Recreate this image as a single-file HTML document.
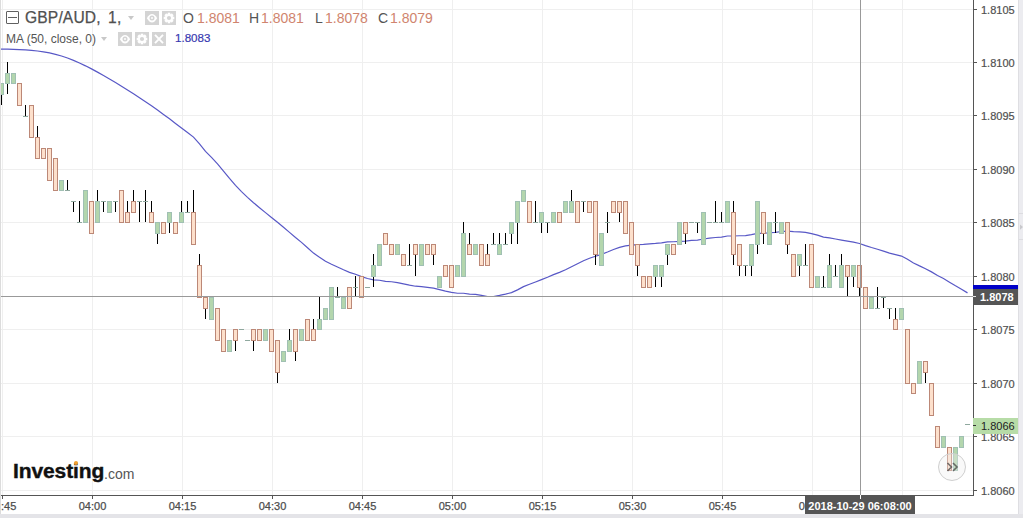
<!DOCTYPE html>
<html><head><meta charset="utf-8">
<style>
html,body{margin:0;padding:0;}
body{width:1023px;height:518px;overflow:hidden;background:#fff;position:relative;font-family:"Liberation Sans",sans-serif;}
.a{position:absolute;white-space:nowrap;}
svg{position:absolute;left:0;top:0;}
.pl{position:absolute;left:981px;font-size:11px;line-height:14px;color:#505050;-webkit-text-stroke:0.2px #505050;}
.tl{position:absolute;font-size:11px;line-height:14px;color:#4d4d4d;text-align:center;-webkit-text-stroke:0.25px #4d4d4d;}
</style></head><body>
<div class="a" style="left:1018px;top:0;width:5px;height:518px;background:#ececf0;border-left:1px solid #dedee2;box-sizing:border-box"></div>
<div class="a" style="left:0;top:514px;width:1023px;height:4px;background:#e4e4e8"></div>
<div class="a" style="left:1019px;top:213px;width:4px;height:1px;background:#dcdce0"></div>
<div class="a" style="left:1019px;top:239px;width:4px;height:1px;background:#dcdce0"></div>
<svg class="a" style="left:1018px;top:221px" width="5" height="12" shape-rendering="geometricPrecision"><path d="M2 3.5 L5 6 L2 8.8 Z" fill="#c8c8cc"/></svg>
<svg width="1023" height="518" shape-rendering="crispEdges">
<rect x="1" y="9" width="972" height="1" fill="#efefef"/>
<rect x="1" y="62" width="972" height="1" fill="#efefef"/>
<rect x="1" y="115" width="972" height="1" fill="#efefef"/>
<rect x="1" y="169" width="972" height="1" fill="#efefef"/>
<rect x="1" y="222" width="972" height="1" fill="#efefef"/>
<rect x="1" y="276" width="972" height="1" fill="#efefef"/>
<rect x="1" y="329" width="972" height="1" fill="#efefef"/>
<rect x="1" y="383" width="972" height="1" fill="#efefef"/>
<rect x="1" y="436" width="972" height="1" fill="#efefef"/>
<rect x="1" y="490" width="972" height="1" fill="#efefef"/>
<rect x="2" y="0" width="1" height="495" fill="#efefef"/>
<rect x="92" y="0" width="1" height="495" fill="#efefef"/>
<rect x="182" y="0" width="1" height="495" fill="#efefef"/>
<rect x="272" y="0" width="1" height="495" fill="#efefef"/>
<rect x="362" y="0" width="1" height="495" fill="#efefef"/>
<rect x="452" y="0" width="1" height="495" fill="#efefef"/>
<rect x="542" y="0" width="1" height="495" fill="#efefef"/>
<rect x="632" y="0" width="1" height="495" fill="#efefef"/>
<rect x="722" y="0" width="1" height="495" fill="#efefef"/>
<rect x="812" y="0" width="1" height="495" fill="#efefef"/>
<rect x="902" y="0" width="1" height="495" fill="#efefef"/>
<polyline points="0.0,49.04 1.5,49.04 7.5,49.20 13.5,49.36 19.5,49.59 25.5,49.91 31.5,50.37 37.5,50.99 43.5,51.83 49.5,52.92 55.5,54.30 61.5,56.00 67.5,58.03 73.5,60.37 79.5,62.98 85.5,65.84 91.5,68.90 97.5,72.15 103.5,75.54 109.5,79.01 115.5,82.57 121.5,86.21 127.5,89.94 133.5,93.75 139.5,97.67 145.5,101.69 151.5,105.81 157.5,110.04 163.5,114.39 169.5,118.85 175.5,123.40 181.5,127.98 187.5,132.51 193.5,137.12 199.5,143.89 205.5,151.41 211.5,157.36 217.5,163.83 223.5,171.02 229.5,178.40 235.5,185.31 241.5,191.59 247.5,197.34 253.5,202.69 259.5,207.74 265.5,212.63 271.5,217.45 277.5,222.34 283.5,227.30 289.5,232.34 295.5,237.48 301.5,242.39 307.5,247.74 313.5,253.08 319.5,257.36 325.5,261.21 331.5,264.20 337.5,266.98 343.5,269.76 349.5,272.32 355.5,274.25 361.5,276.60 367.5,278.52 373.5,279.80 379.5,280.23 385.5,281.30 391.5,281.73 397.5,282.58 403.5,283.87 409.5,285.15 415.5,286.22 421.5,286.65 427.5,287.29 433.5,288.14 439.5,289.64 445.5,291.13 451.5,292.42 457.5,293.27 463.5,293.27 469.5,294.13 475.5,294.34 481.5,295.41 487.5,296.48 493.5,296.48 499.5,295.41 505.5,294.13 511.5,292.63 517.5,289.85 523.5,286.65 529.5,284.29 535.5,281.94 541.5,279.59 547.5,277.24 553.5,274.67 559.5,272.32 565.5,269.76 571.5,266.76 577.5,263.77 583.5,260.78 589.5,258.21 595.5,256.29 601.5,254.36 607.5,252.01 613.5,249.45 619.5,247.31 625.5,245.81 631.5,245.17 637.5,244.53 643.5,244.32 649.5,243.89 655.5,243.46 661.5,242.82 667.5,241.97 673.5,241.75 679.5,241.32 685.5,241.11 691.5,240.47 697.5,240.04 703.5,238.97 709.5,238.12 715.5,237.48 721.5,237.05 727.5,235.98 733.5,235.98 739.5,235.77 745.5,235.55 751.5,234.70 757.5,233.41 763.5,233.41 769.5,232.77 775.5,232.35 781.5,231.49 787.5,231.06 793.5,231.70 799.5,231.92 805.5,232.35 811.5,233.63 817.5,235.12 823.5,237.05 829.5,237.90 835.5,238.97 841.5,240.04 847.5,241.11 853.5,242.18 859.5,243.46 865.5,245.60 871.5,247.52 877.5,249.23 883.5,251.16 889.5,253.08 895.5,254.58 901.5,256.07 907.5,259.28 913.5,262.92 919.5,265.91 925.5,268.69 931.5,271.89 937.5,275.53 943.5,278.52 949.5,282.20 955.5,285.83 961.5,289.25 967.5,292.87" fill="none" stroke="#5858c6" stroke-width="1.2" shape-rendering="geometricPrecision"/>
<rect x="1" y="83" width="1" height="22" fill="#000"/>
<rect x="7" y="62" width="1" height="32" fill="#000"/>
<rect x="13" y="73" width="1" height="10" fill="#000"/>
<rect x="19" y="83" width="1" height="22" fill="#000"/>
<rect x="25" y="105" width="1" height="11" fill="#000"/>
<rect x="31" y="105" width="1" height="32" fill="#000"/>
<rect x="37" y="126" width="1" height="32" fill="#000"/>
<rect x="43" y="148" width="1" height="10" fill="#000"/>
<rect x="49" y="148" width="1" height="32" fill="#000"/>
<rect x="55" y="158" width="1" height="32" fill="#000"/>
<rect x="61" y="180" width="1" height="10" fill="#000"/>
<rect x="67" y="180" width="1" height="10" fill="#000"/>
<rect x="73" y="201" width="1" height="11" fill="#000"/>
<rect x="79" y="201" width="1" height="21" fill="#000"/>
<rect x="85" y="190" width="1" height="32" fill="#000"/>
<rect x="91" y="201" width="1" height="32" fill="#000"/>
<rect x="97" y="190" width="1" height="32" fill="#000"/>
<rect x="103" y="201" width="1" height="11" fill="#000"/>
<rect x="109" y="201" width="1" height="11" fill="#000"/>
<rect x="115" y="201" width="1" height="11" fill="#000"/>
<rect x="121" y="190" width="1" height="32" fill="#000"/>
<rect x="127" y="201" width="1" height="21" fill="#000"/>
<rect x="133" y="190" width="1" height="22" fill="#000"/>
<rect x="139" y="201" width="1" height="21" fill="#000"/>
<rect x="145" y="190" width="1" height="32" fill="#000"/>
<rect x="151" y="201" width="1" height="21" fill="#000"/>
<rect x="157" y="222" width="1" height="22" fill="#000"/>
<rect x="163" y="222" width="1" height="11" fill="#000"/>
<rect x="169" y="212" width="1" height="21" fill="#000"/>
<rect x="175" y="222" width="1" height="11" fill="#000"/>
<rect x="181" y="201" width="1" height="21" fill="#000"/>
<rect x="187" y="201" width="1" height="11" fill="#000"/>
<rect x="193" y="190" width="1" height="54" fill="#000"/>
<rect x="199" y="254" width="1" height="43" fill="#000"/>
<rect x="205" y="297" width="1" height="22" fill="#000"/>
<rect x="211" y="297" width="1" height="22" fill="#000"/>
<rect x="217" y="308" width="1" height="32" fill="#000"/>
<rect x="223" y="329" width="1" height="22" fill="#000"/>
<rect x="229" y="340" width="1" height="11" fill="#000"/>
<rect x="235" y="329" width="1" height="22" fill="#000"/>
<rect x="253" y="329" width="1" height="22" fill="#000"/>
<rect x="259" y="329" width="1" height="11" fill="#000"/>
<rect x="265" y="329" width="1" height="11" fill="#000"/>
<rect x="271" y="329" width="1" height="22" fill="#000"/>
<rect x="277" y="340" width="1" height="43" fill="#000"/>
<rect x="283" y="351" width="1" height="10" fill="#000"/>
<rect x="289" y="329" width="1" height="22" fill="#000"/>
<rect x="295" y="329" width="1" height="32" fill="#000"/>
<rect x="301" y="329" width="1" height="11" fill="#000"/>
<rect x="307" y="319" width="1" height="21" fill="#000"/>
<rect x="313" y="319" width="1" height="21" fill="#000"/>
<rect x="319" y="297" width="1" height="32" fill="#000"/>
<rect x="325" y="308" width="1" height="11" fill="#000"/>
<rect x="331" y="287" width="1" height="32" fill="#000"/>
<rect x="337" y="287" width="1" height="10" fill="#000"/>
<rect x="343" y="297" width="1" height="11" fill="#000"/>
<rect x="349" y="287" width="1" height="21" fill="#000"/>
<rect x="355" y="276" width="1" height="21" fill="#000"/>
<rect x="361" y="276" width="1" height="21" fill="#000"/>
<rect x="373" y="254" width="1" height="33" fill="#000"/>
<rect x="379" y="244" width="1" height="21" fill="#000"/>
<rect x="385" y="233" width="1" height="11" fill="#000"/>
<rect x="391" y="244" width="1" height="10" fill="#000"/>
<rect x="397" y="244" width="1" height="10" fill="#000"/>
<rect x="403" y="254" width="1" height="11" fill="#000"/>
<rect x="409" y="244" width="1" height="21" fill="#000"/>
<rect x="415" y="244" width="1" height="32" fill="#000"/>
<rect x="421" y="244" width="1" height="21" fill="#000"/>
<rect x="427" y="244" width="1" height="10" fill="#000"/>
<rect x="433" y="244" width="1" height="21" fill="#000"/>
<rect x="439" y="276" width="1" height="11" fill="#000"/>
<rect x="445" y="265" width="1" height="11" fill="#000"/>
<rect x="451" y="265" width="1" height="22" fill="#000"/>
<rect x="457" y="265" width="1" height="11" fill="#000"/>
<rect x="463" y="222" width="1" height="54" fill="#000"/>
<rect x="469" y="233" width="1" height="21" fill="#000"/>
<rect x="475" y="244" width="1" height="10" fill="#000"/>
<rect x="481" y="244" width="1" height="21" fill="#000"/>
<rect x="487" y="244" width="1" height="21" fill="#000"/>
<rect x="493" y="233" width="1" height="11" fill="#000"/>
<rect x="499" y="233" width="1" height="21" fill="#000"/>
<rect x="505" y="233" width="1" height="11" fill="#000"/>
<rect x="511" y="222" width="1" height="22" fill="#000"/>
<rect x="517" y="201" width="1" height="43" fill="#000"/>
<rect x="523" y="190" width="1" height="11" fill="#000"/>
<rect x="529" y="201" width="1" height="21" fill="#000"/>
<rect x="535" y="201" width="1" height="21" fill="#000"/>
<rect x="541" y="212" width="1" height="21" fill="#000"/>
<rect x="547" y="222" width="1" height="11" fill="#000"/>
<rect x="553" y="212" width="1" height="10" fill="#000"/>
<rect x="559" y="212" width="1" height="10" fill="#000"/>
<rect x="565" y="201" width="1" height="11" fill="#000"/>
<rect x="571" y="190" width="1" height="22" fill="#000"/>
<rect x="577" y="201" width="1" height="21" fill="#000"/>
<rect x="583" y="201" width="1" height="11" fill="#000"/>
<rect x="589" y="201" width="1" height="11" fill="#000"/>
<rect x="595" y="201" width="1" height="64" fill="#000"/>
<rect x="601" y="233" width="1" height="32" fill="#000"/>
<rect x="607" y="212" width="1" height="21" fill="#000"/>
<rect x="613" y="201" width="1" height="11" fill="#000"/>
<rect x="619" y="201" width="1" height="21" fill="#000"/>
<rect x="625" y="201" width="1" height="32" fill="#000"/>
<rect x="631" y="222" width="1" height="32" fill="#000"/>
<rect x="637" y="244" width="1" height="32" fill="#000"/>
<rect x="643" y="276" width="1" height="11" fill="#000"/>
<rect x="649" y="276" width="1" height="11" fill="#000"/>
<rect x="655" y="265" width="1" height="22" fill="#000"/>
<rect x="661" y="265" width="1" height="22" fill="#000"/>
<rect x="667" y="244" width="1" height="21" fill="#000"/>
<rect x="673" y="244" width="1" height="10" fill="#000"/>
<rect x="679" y="222" width="1" height="22" fill="#000"/>
<rect x="685" y="222" width="1" height="22" fill="#000"/>
<rect x="697" y="222" width="1" height="11" fill="#000"/>
<rect x="703" y="212" width="1" height="32" fill="#000"/>
<rect x="715" y="201" width="1" height="21" fill="#000"/>
<rect x="721" y="212" width="1" height="10" fill="#000"/>
<rect x="727" y="201" width="1" height="21" fill="#000"/>
<rect x="733" y="201" width="1" height="64" fill="#000"/>
<rect x="739" y="244" width="1" height="32" fill="#000"/>
<rect x="745" y="265" width="1" height="11" fill="#000"/>
<rect x="751" y="244" width="1" height="32" fill="#000"/>
<rect x="757" y="201" width="1" height="53" fill="#000"/>
<rect x="763" y="212" width="1" height="32" fill="#000"/>
<rect x="769" y="222" width="1" height="22" fill="#000"/>
<rect x="775" y="212" width="1" height="21" fill="#000"/>
<rect x="781" y="222" width="1" height="11" fill="#000"/>
<rect x="787" y="222" width="1" height="32" fill="#000"/>
<rect x="793" y="254" width="1" height="22" fill="#000"/>
<rect x="799" y="254" width="1" height="22" fill="#000"/>
<rect x="805" y="244" width="1" height="21" fill="#000"/>
<rect x="811" y="244" width="1" height="43" fill="#000"/>
<rect x="817" y="276" width="1" height="11" fill="#000"/>
<rect x="823" y="276" width="1" height="11" fill="#000"/>
<rect x="829" y="254" width="1" height="33" fill="#000"/>
<rect x="835" y="265" width="1" height="11" fill="#000"/>
<rect x="841" y="254" width="1" height="33" fill="#000"/>
<rect x="847" y="265" width="1" height="32" fill="#000"/>
<rect x="853" y="265" width="1" height="22" fill="#000"/>
<rect x="859" y="265" width="1" height="32" fill="#000"/>
<rect x="865" y="287" width="1" height="21" fill="#000"/>
<rect x="871" y="297" width="1" height="11" fill="#000"/>
<rect x="877" y="287" width="1" height="21" fill="#000"/>
<rect x="883" y="297" width="1" height="11" fill="#000"/>
<rect x="889" y="308" width="1" height="11" fill="#000"/>
<rect x="895" y="308" width="1" height="21" fill="#000"/>
<rect x="901" y="308" width="1" height="11" fill="#000"/>
<rect x="907" y="329" width="1" height="54" fill="#000"/>
<rect x="913" y="383" width="1" height="10" fill="#000"/>
<rect x="919" y="361" width="1" height="22" fill="#000"/>
<rect x="925" y="361" width="1" height="22" fill="#000"/>
<rect x="931" y="383" width="1" height="32" fill="#000"/>
<rect x="937" y="426" width="1" height="21" fill="#000"/>
<rect x="943" y="436" width="1" height="11" fill="#000"/>
<rect x="949" y="447" width="1" height="23" fill="#000"/>
<rect x="955" y="447" width="1" height="23" fill="#000"/>
<rect x="961" y="436" width="1" height="11" fill="#000"/>
<rect x="-1" y="83" width="5" height="12" fill="#a0c0b3"/>
<rect x="0" y="84" width="3" height="10" fill="#b3d6ad"/>
<rect x="5" y="73" width="5" height="11" fill="#a0c0b3"/>
<rect x="6" y="74" width="3" height="9" fill="#b3d6ad"/>
<rect x="11" y="73" width="5" height="11" fill="#a0c0b3"/>
<rect x="12" y="74" width="3" height="9" fill="#b3d6ad"/>
<rect x="17" y="83" width="5" height="23" fill="#bc8877"/>
<rect x="18" y="84" width="3" height="21" fill="#fde0cc"/>
<rect x="23" y="116" width="5" height="1" fill="#8fa89e"/>
<rect x="29" y="105" width="5" height="33" fill="#bc8877"/>
<rect x="30" y="106" width="3" height="31" fill="#fde0cc"/>
<rect x="35" y="137" width="5" height="22" fill="#bc8877"/>
<rect x="36" y="138" width="3" height="20" fill="#fde0cc"/>
<rect x="41" y="148" width="5" height="11" fill="#bc8877"/>
<rect x="42" y="149" width="3" height="9" fill="#fde0cc"/>
<rect x="47" y="148" width="5" height="33" fill="#bc8877"/>
<rect x="48" y="149" width="3" height="31" fill="#fde0cc"/>
<rect x="53" y="158" width="5" height="33" fill="#bc8877"/>
<rect x="54" y="159" width="3" height="31" fill="#fde0cc"/>
<rect x="59" y="180" width="5" height="11" fill="#a0c0b3"/>
<rect x="60" y="181" width="3" height="9" fill="#b3d6ad"/>
<rect x="65" y="190" width="5" height="1" fill="#8fa89e"/>
<rect x="71" y="201" width="5" height="1" fill="#8fa89e"/>
<rect x="77" y="222" width="5" height="1" fill="#8fa89e"/>
<rect x="83" y="190" width="5" height="33" fill="#a0c0b3"/>
<rect x="84" y="191" width="3" height="31" fill="#b3d6ad"/>
<rect x="89" y="201" width="5" height="33" fill="#bc8877"/>
<rect x="90" y="202" width="3" height="31" fill="#fde0cc"/>
<rect x="95" y="201" width="5" height="22" fill="#a0c0b3"/>
<rect x="96" y="202" width="3" height="20" fill="#b3d6ad"/>
<rect x="101" y="201" width="5" height="1" fill="#8fa89e"/>
<rect x="107" y="201" width="5" height="12" fill="#a0c0b3"/>
<rect x="108" y="202" width="3" height="10" fill="#b3d6ad"/>
<rect x="113" y="201" width="5" height="1" fill="#8fa89e"/>
<rect x="119" y="190" width="5" height="33" fill="#bc8877"/>
<rect x="120" y="191" width="3" height="31" fill="#fde0cc"/>
<rect x="125" y="212" width="5" height="11" fill="#bc8877"/>
<rect x="126" y="213" width="3" height="9" fill="#fde0cc"/>
<rect x="131" y="201" width="5" height="12" fill="#bc8877"/>
<rect x="132" y="202" width="3" height="10" fill="#fde0cc"/>
<rect x="137" y="201" width="5" height="1" fill="#8fa89e"/>
<rect x="143" y="201" width="5" height="1" fill="#8fa89e"/>
<rect x="149" y="212" width="5" height="11" fill="#bc8877"/>
<rect x="150" y="213" width="3" height="9" fill="#fde0cc"/>
<rect x="155" y="222" width="5" height="12" fill="#a0c0b3"/>
<rect x="156" y="223" width="3" height="10" fill="#b3d6ad"/>
<rect x="161" y="222" width="5" height="12" fill="#bc8877"/>
<rect x="162" y="223" width="3" height="10" fill="#fde0cc"/>
<rect x="167" y="212" width="5" height="11" fill="#a0c0b3"/>
<rect x="168" y="213" width="3" height="9" fill="#b3d6ad"/>
<rect x="173" y="222" width="5" height="12" fill="#bc8877"/>
<rect x="174" y="223" width="3" height="10" fill="#fde0cc"/>
<rect x="179" y="212" width="5" height="11" fill="#a0c0b3"/>
<rect x="180" y="213" width="3" height="9" fill="#b3d6ad"/>
<rect x="185" y="212" width="5" height="1" fill="#8fa89e"/>
<rect x="191" y="212" width="5" height="33" fill="#bc8877"/>
<rect x="192" y="213" width="3" height="31" fill="#fde0cc"/>
<rect x="197" y="265" width="5" height="33" fill="#bc8877"/>
<rect x="198" y="266" width="3" height="31" fill="#fde0cc"/>
<rect x="203" y="297" width="5" height="12" fill="#bc8877"/>
<rect x="204" y="298" width="3" height="10" fill="#fde0cc"/>
<rect x="209" y="297" width="5" height="23" fill="#a0c0b3"/>
<rect x="210" y="298" width="3" height="21" fill="#b3d6ad"/>
<rect x="215" y="308" width="5" height="33" fill="#bc8877"/>
<rect x="216" y="309" width="3" height="31" fill="#fde0cc"/>
<rect x="221" y="329" width="5" height="23" fill="#bc8877"/>
<rect x="222" y="330" width="3" height="21" fill="#fde0cc"/>
<rect x="227" y="340" width="5" height="12" fill="#a0c0b3"/>
<rect x="228" y="341" width="3" height="10" fill="#b3d6ad"/>
<rect x="233" y="329" width="5" height="12" fill="#bc8877"/>
<rect x="234" y="330" width="3" height="10" fill="#fde0cc"/>
<rect x="239" y="329" width="5" height="1" fill="#8fa89e"/>
<rect x="245" y="340" width="5" height="1" fill="#8fa89e"/>
<rect x="251" y="329" width="5" height="12" fill="#bc8877"/>
<rect x="252" y="330" width="3" height="10" fill="#fde0cc"/>
<rect x="257" y="329" width="5" height="12" fill="#bc8877"/>
<rect x="258" y="330" width="3" height="10" fill="#fde0cc"/>
<rect x="263" y="329" width="5" height="12" fill="#a0c0b3"/>
<rect x="264" y="330" width="3" height="10" fill="#b3d6ad"/>
<rect x="269" y="329" width="5" height="23" fill="#bc8877"/>
<rect x="270" y="330" width="3" height="21" fill="#fde0cc"/>
<rect x="275" y="340" width="5" height="33" fill="#bc8877"/>
<rect x="276" y="341" width="3" height="31" fill="#fde0cc"/>
<rect x="281" y="351" width="5" height="11" fill="#a0c0b3"/>
<rect x="282" y="352" width="3" height="9" fill="#b3d6ad"/>
<rect x="287" y="340" width="5" height="12" fill="#a0c0b3"/>
<rect x="288" y="341" width="3" height="10" fill="#b3d6ad"/>
<rect x="293" y="329" width="5" height="23" fill="#bc8877"/>
<rect x="294" y="330" width="3" height="21" fill="#fde0cc"/>
<rect x="299" y="329" width="5" height="12" fill="#a0c0b3"/>
<rect x="300" y="330" width="3" height="10" fill="#b3d6ad"/>
<rect x="305" y="319" width="5" height="22" fill="#bc8877"/>
<rect x="306" y="320" width="3" height="20" fill="#fde0cc"/>
<rect x="311" y="329" width="5" height="12" fill="#bc8877"/>
<rect x="312" y="330" width="3" height="10" fill="#fde0cc"/>
<rect x="317" y="319" width="5" height="11" fill="#a0c0b3"/>
<rect x="318" y="320" width="3" height="9" fill="#b3d6ad"/>
<rect x="323" y="308" width="5" height="12" fill="#a0c0b3"/>
<rect x="324" y="309" width="3" height="10" fill="#b3d6ad"/>
<rect x="329" y="287" width="5" height="33" fill="#a0c0b3"/>
<rect x="330" y="288" width="3" height="31" fill="#b3d6ad"/>
<rect x="335" y="297" width="5" height="1" fill="#8fa89e"/>
<rect x="341" y="297" width="5" height="12" fill="#a0c0b3"/>
<rect x="342" y="298" width="3" height="10" fill="#b3d6ad"/>
<rect x="347" y="287" width="5" height="22" fill="#bc8877"/>
<rect x="348" y="288" width="3" height="20" fill="#fde0cc"/>
<rect x="353" y="287" width="5" height="1" fill="#8fa89e"/>
<rect x="359" y="276" width="5" height="22" fill="#bc8877"/>
<rect x="360" y="277" width="3" height="20" fill="#fde0cc"/>
<rect x="365" y="287" width="5" height="1" fill="#8fa89e"/>
<rect x="371" y="265" width="5" height="12" fill="#a0c0b3"/>
<rect x="372" y="266" width="3" height="10" fill="#b3d6ad"/>
<rect x="377" y="244" width="5" height="22" fill="#a0c0b3"/>
<rect x="378" y="245" width="3" height="20" fill="#b3d6ad"/>
<rect x="383" y="233" width="5" height="12" fill="#bc8877"/>
<rect x="384" y="234" width="3" height="10" fill="#fde0cc"/>
<rect x="389" y="244" width="5" height="11" fill="#bc8877"/>
<rect x="390" y="245" width="3" height="9" fill="#fde0cc"/>
<rect x="395" y="244" width="5" height="11" fill="#a0c0b3"/>
<rect x="396" y="245" width="3" height="9" fill="#b3d6ad"/>
<rect x="401" y="254" width="5" height="12" fill="#bc8877"/>
<rect x="402" y="255" width="3" height="10" fill="#fde0cc"/>
<rect x="407" y="265" width="5" height="1" fill="#8fa89e"/>
<rect x="413" y="244" width="5" height="11" fill="#bc8877"/>
<rect x="414" y="245" width="3" height="9" fill="#fde0cc"/>
<rect x="419" y="244" width="5" height="22" fill="#a0c0b3"/>
<rect x="420" y="245" width="3" height="20" fill="#b3d6ad"/>
<rect x="425" y="244" width="5" height="11" fill="#bc8877"/>
<rect x="426" y="245" width="3" height="9" fill="#fde0cc"/>
<rect x="431" y="244" width="5" height="11" fill="#bc8877"/>
<rect x="432" y="245" width="3" height="9" fill="#fde0cc"/>
<rect x="437" y="276" width="5" height="12" fill="#a0c0b3"/>
<rect x="438" y="277" width="3" height="10" fill="#b3d6ad"/>
<rect x="443" y="265" width="5" height="12" fill="#bc8877"/>
<rect x="444" y="266" width="3" height="10" fill="#fde0cc"/>
<rect x="449" y="265" width="5" height="23" fill="#bc8877"/>
<rect x="450" y="266" width="3" height="21" fill="#fde0cc"/>
<rect x="455" y="265" width="5" height="12" fill="#a0c0b3"/>
<rect x="456" y="266" width="3" height="10" fill="#b3d6ad"/>
<rect x="461" y="233" width="5" height="44" fill="#a0c0b3"/>
<rect x="462" y="234" width="3" height="42" fill="#b3d6ad"/>
<rect x="467" y="244" width="5" height="11" fill="#bc8877"/>
<rect x="468" y="245" width="3" height="9" fill="#fde0cc"/>
<rect x="473" y="244" width="5" height="11" fill="#a0c0b3"/>
<rect x="474" y="245" width="3" height="9" fill="#b3d6ad"/>
<rect x="479" y="244" width="5" height="22" fill="#bc8877"/>
<rect x="480" y="245" width="3" height="20" fill="#fde0cc"/>
<rect x="485" y="254" width="5" height="12" fill="#bc8877"/>
<rect x="486" y="255" width="3" height="10" fill="#fde0cc"/>
<rect x="491" y="244" width="5" height="1" fill="#8fa89e"/>
<rect x="497" y="244" width="5" height="11" fill="#a0c0b3"/>
<rect x="498" y="245" width="3" height="9" fill="#b3d6ad"/>
<rect x="503" y="244" width="5" height="1" fill="#8fa89e"/>
<rect x="509" y="222" width="5" height="12" fill="#a0c0b3"/>
<rect x="510" y="223" width="3" height="10" fill="#b3d6ad"/>
<rect x="515" y="201" width="5" height="22" fill="#a0c0b3"/>
<rect x="516" y="202" width="3" height="20" fill="#b3d6ad"/>
<rect x="521" y="190" width="5" height="12" fill="#a0c0b3"/>
<rect x="522" y="191" width="3" height="10" fill="#b3d6ad"/>
<rect x="527" y="201" width="5" height="22" fill="#bc8877"/>
<rect x="528" y="202" width="3" height="20" fill="#fde0cc"/>
<rect x="533" y="222" width="5" height="1" fill="#8fa89e"/>
<rect x="539" y="212" width="5" height="11" fill="#a0c0b3"/>
<rect x="540" y="213" width="3" height="9" fill="#b3d6ad"/>
<rect x="545" y="222" width="5" height="1" fill="#8fa89e"/>
<rect x="551" y="212" width="5" height="11" fill="#a0c0b3"/>
<rect x="552" y="213" width="3" height="9" fill="#b3d6ad"/>
<rect x="557" y="212" width="5" height="11" fill="#bc8877"/>
<rect x="558" y="213" width="3" height="9" fill="#fde0cc"/>
<rect x="563" y="201" width="5" height="12" fill="#a0c0b3"/>
<rect x="564" y="202" width="3" height="10" fill="#b3d6ad"/>
<rect x="569" y="201" width="5" height="12" fill="#a0c0b3"/>
<rect x="570" y="202" width="3" height="10" fill="#b3d6ad"/>
<rect x="575" y="201" width="5" height="22" fill="#bc8877"/>
<rect x="576" y="202" width="3" height="20" fill="#fde0cc"/>
<rect x="581" y="201" width="5" height="1" fill="#8fa89e"/>
<rect x="587" y="201" width="5" height="12" fill="#bc8877"/>
<rect x="588" y="202" width="3" height="10" fill="#fde0cc"/>
<rect x="593" y="201" width="5" height="54" fill="#bc8877"/>
<rect x="594" y="202" width="3" height="52" fill="#fde0cc"/>
<rect x="599" y="233" width="5" height="33" fill="#a0c0b3"/>
<rect x="600" y="234" width="3" height="31" fill="#b3d6ad"/>
<rect x="605" y="222" width="5" height="1" fill="#8fa89e"/>
<rect x="611" y="201" width="5" height="12" fill="#bc8877"/>
<rect x="612" y="202" width="3" height="10" fill="#fde0cc"/>
<rect x="617" y="201" width="5" height="12" fill="#bc8877"/>
<rect x="618" y="202" width="3" height="10" fill="#fde0cc"/>
<rect x="623" y="201" width="5" height="33" fill="#bc8877"/>
<rect x="624" y="202" width="3" height="31" fill="#fde0cc"/>
<rect x="629" y="222" width="5" height="33" fill="#bc8877"/>
<rect x="630" y="223" width="3" height="31" fill="#fde0cc"/>
<rect x="635" y="244" width="5" height="22" fill="#bc8877"/>
<rect x="636" y="245" width="3" height="20" fill="#fde0cc"/>
<rect x="641" y="276" width="5" height="12" fill="#bc8877"/>
<rect x="642" y="277" width="3" height="10" fill="#fde0cc"/>
<rect x="647" y="276" width="5" height="12" fill="#bc8877"/>
<rect x="648" y="277" width="3" height="10" fill="#fde0cc"/>
<rect x="653" y="265" width="5" height="12" fill="#a0c0b3"/>
<rect x="654" y="266" width="3" height="10" fill="#b3d6ad"/>
<rect x="659" y="265" width="5" height="12" fill="#a0c0b3"/>
<rect x="660" y="266" width="3" height="10" fill="#b3d6ad"/>
<rect x="665" y="244" width="5" height="11" fill="#a0c0b3"/>
<rect x="666" y="245" width="3" height="9" fill="#b3d6ad"/>
<rect x="671" y="244" width="5" height="11" fill="#bc8877"/>
<rect x="672" y="245" width="3" height="9" fill="#fde0cc"/>
<rect x="677" y="222" width="5" height="23" fill="#a0c0b3"/>
<rect x="678" y="223" width="3" height="21" fill="#b3d6ad"/>
<rect x="683" y="222" width="5" height="12" fill="#bc8877"/>
<rect x="684" y="223" width="3" height="10" fill="#fde0cc"/>
<rect x="689" y="222" width="5" height="1" fill="#8fa89e"/>
<rect x="695" y="222" width="5" height="1" fill="#8fa89e"/>
<rect x="701" y="212" width="5" height="33" fill="#a0c0b3"/>
<rect x="702" y="213" width="3" height="31" fill="#b3d6ad"/>
<rect x="707" y="222" width="5" height="1" fill="#8fa89e"/>
<rect x="713" y="222" width="5" height="1" fill="#8fa89e"/>
<rect x="719" y="222" width="5" height="1" fill="#8fa89e"/>
<rect x="725" y="201" width="5" height="22" fill="#a0c0b3"/>
<rect x="726" y="202" width="3" height="20" fill="#b3d6ad"/>
<rect x="731" y="212" width="5" height="43" fill="#bc8877"/>
<rect x="732" y="213" width="3" height="41" fill="#fde0cc"/>
<rect x="737" y="244" width="5" height="22" fill="#bc8877"/>
<rect x="738" y="245" width="3" height="20" fill="#fde0cc"/>
<rect x="743" y="265" width="5" height="1" fill="#8fa89e"/>
<rect x="749" y="244" width="5" height="22" fill="#a0c0b3"/>
<rect x="750" y="245" width="3" height="20" fill="#b3d6ad"/>
<rect x="755" y="201" width="5" height="44" fill="#a0c0b3"/>
<rect x="756" y="202" width="3" height="42" fill="#b3d6ad"/>
<rect x="761" y="212" width="5" height="22" fill="#bc8877"/>
<rect x="762" y="213" width="3" height="20" fill="#fde0cc"/>
<rect x="767" y="222" width="5" height="23" fill="#a0c0b3"/>
<rect x="768" y="223" width="3" height="21" fill="#b3d6ad"/>
<rect x="773" y="222" width="5" height="1" fill="#8fa89e"/>
<rect x="779" y="222" width="5" height="12" fill="#a0c0b3"/>
<rect x="780" y="223" width="3" height="10" fill="#b3d6ad"/>
<rect x="785" y="222" width="5" height="23" fill="#bc8877"/>
<rect x="786" y="223" width="3" height="21" fill="#fde0cc"/>
<rect x="791" y="254" width="5" height="23" fill="#bc8877"/>
<rect x="792" y="255" width="3" height="21" fill="#fde0cc"/>
<rect x="797" y="254" width="5" height="12" fill="#a0c0b3"/>
<rect x="798" y="255" width="3" height="10" fill="#b3d6ad"/>
<rect x="803" y="265" width="5" height="1" fill="#8fa89e"/>
<rect x="809" y="244" width="5" height="44" fill="#bc8877"/>
<rect x="810" y="245" width="3" height="42" fill="#fde0cc"/>
<rect x="815" y="276" width="5" height="12" fill="#a0c0b3"/>
<rect x="816" y="277" width="3" height="10" fill="#b3d6ad"/>
<rect x="821" y="287" width="5" height="1" fill="#8fa89e"/>
<rect x="827" y="265" width="5" height="23" fill="#a0c0b3"/>
<rect x="828" y="266" width="3" height="21" fill="#b3d6ad"/>
<rect x="833" y="276" width="5" height="1" fill="#8fa89e"/>
<rect x="839" y="265" width="5" height="23" fill="#a0c0b3"/>
<rect x="840" y="266" width="3" height="21" fill="#b3d6ad"/>
<rect x="845" y="265" width="5" height="12" fill="#bc8877"/>
<rect x="846" y="266" width="3" height="10" fill="#fde0cc"/>
<rect x="851" y="265" width="5" height="12" fill="#a0c0b3"/>
<rect x="852" y="266" width="3" height="10" fill="#b3d6ad"/>
<rect x="857" y="265" width="5" height="23" fill="#bc8877"/>
<rect x="858" y="266" width="3" height="21" fill="#fde0cc"/>
<rect x="863" y="287" width="5" height="22" fill="#bc8877"/>
<rect x="864" y="288" width="3" height="20" fill="#fde0cc"/>
<rect x="869" y="297" width="5" height="12" fill="#a0c0b3"/>
<rect x="870" y="298" width="3" height="10" fill="#b3d6ad"/>
<rect x="875" y="308" width="5" height="1" fill="#8fa89e"/>
<rect x="881" y="297" width="5" height="1" fill="#8fa89e"/>
<rect x="887" y="308" width="5" height="1" fill="#8fa89e"/>
<rect x="893" y="319" width="5" height="11" fill="#bc8877"/>
<rect x="894" y="320" width="3" height="9" fill="#fde0cc"/>
<rect x="899" y="308" width="5" height="12" fill="#a0c0b3"/>
<rect x="900" y="309" width="3" height="10" fill="#b3d6ad"/>
<rect x="905" y="329" width="5" height="55" fill="#bc8877"/>
<rect x="906" y="330" width="3" height="53" fill="#fde0cc"/>
<rect x="911" y="383" width="5" height="11" fill="#bc8877"/>
<rect x="912" y="384" width="3" height="9" fill="#fde0cc"/>
<rect x="917" y="361" width="5" height="23" fill="#a0c0b3"/>
<rect x="918" y="362" width="3" height="21" fill="#b3d6ad"/>
<rect x="923" y="361" width="5" height="12" fill="#bc8877"/>
<rect x="924" y="362" width="3" height="10" fill="#fde0cc"/>
<rect x="929" y="383" width="5" height="33" fill="#bc8877"/>
<rect x="930" y="384" width="3" height="31" fill="#fde0cc"/>
<rect x="935" y="426" width="5" height="22" fill="#bc8877"/>
<rect x="936" y="427" width="3" height="20" fill="#fde0cc"/>
<rect x="941" y="436" width="5" height="12" fill="#a0c0b3"/>
<rect x="942" y="437" width="3" height="10" fill="#b3d6ad"/>
<rect x="947" y="447" width="5" height="24" fill="#bc8877"/>
<rect x="948" y="448" width="3" height="22" fill="#fde0cc"/>
<rect x="953" y="447" width="5" height="24" fill="#a0c0b3"/>
<rect x="954" y="448" width="3" height="22" fill="#b3d6ad"/>
<rect x="959" y="436" width="5" height="12" fill="#a0c0b3"/>
<rect x="960" y="437" width="3" height="10" fill="#b3d6ad"/>
<rect x="965" y="424" width="5" height="1" fill="#8fa89e"/>
<rect x="860" y="0" width="1" height="495" fill="#999"/>
<rect x="1" y="296" width="972" height="1" fill="#999"/>
<rect x="973" y="0" width="1" height="496" fill="#555555"/>
<rect x="1" y="495" width="973" height="1" fill="#555555"/>
<rect x="974" y="9" width="3" height="1" fill="#555555"/>
<rect x="974" y="62" width="3" height="1" fill="#555555"/>
<rect x="974" y="115" width="3" height="1" fill="#555555"/>
<rect x="974" y="169" width="3" height="1" fill="#555555"/>
<rect x="974" y="222" width="3" height="1" fill="#555555"/>
<rect x="974" y="276" width="3" height="1" fill="#555555"/>
<rect x="974" y="329" width="3" height="1" fill="#555555"/>
<rect x="974" y="383" width="3" height="1" fill="#555555"/>
<rect x="974" y="436" width="3" height="1" fill="#555555"/>
<rect x="974" y="490" width="3" height="1" fill="#555555"/>
<rect x="2" y="496" width="1" height="3" fill="#555555"/>
<rect x="92" y="496" width="1" height="3" fill="#555555"/>
<rect x="182" y="496" width="1" height="3" fill="#555555"/>
<rect x="272" y="496" width="1" height="3" fill="#555555"/>
<rect x="362" y="496" width="1" height="3" fill="#555555"/>
<rect x="452" y="496" width="1" height="3" fill="#555555"/>
<rect x="542" y="496" width="1" height="3" fill="#555555"/>
<rect x="632" y="496" width="1" height="3" fill="#555555"/>
<rect x="722" y="496" width="1" height="3" fill="#555555"/>
<rect x="812" y="496" width="1" height="3" fill="#555555"/>
<rect x="902" y="496" width="1" height="3" fill="#555555"/>
</svg>
<div class="a" style="left:0;top:0;width:1px;height:514px;background:#dcdcdc"></div>
<div class="pl" style="top:3px">1.8105</div>
<div class="pl" style="top:56px">1.8100</div>
<div class="pl" style="top:109px">1.8095</div>
<div class="pl" style="top:163px">1.8090</div>
<div class="pl" style="top:216px">1.8085</div>
<div class="pl" style="top:270px">1.8080</div>
<div class="pl" style="top:323px">1.8075</div>
<div class="pl" style="top:377px">1.8070</div>
<div class="pl" style="top:430px">1.8065</div>
<div class="pl" style="top:484px">1.8060</div>
<div class="a" style="left:1px;top:499px;width:60px;height:15px;overflow:hidden"><div class="tl" style="left:-39px;top:0;width:81px">03:45</div></div>
<div class="tl" style="left:52px;width:81px;top:499px">04:00</div>
<div class="tl" style="left:142px;width:81px;top:499px">04:15</div>
<div class="tl" style="left:232px;width:81px;top:499px">04:30</div>
<div class="tl" style="left:322px;width:81px;top:499px">04:45</div>
<div class="tl" style="left:412px;width:81px;top:499px">05:00</div>
<div class="tl" style="left:502px;width:81px;top:499px">05:15</div>
<div class="tl" style="left:592px;width:81px;top:499px">05:30</div>
<div class="tl" style="left:682px;width:81px;top:499px">05:45</div>
<div class="tl" style="left:772px;width:81px;top:499px">06:00</div>
<div class="a" style="left:6px;top:11px;width:11px;height:11px;border:1px solid #606060;border-radius:1px"></div>
<div class="a" style="left:8px;top:17px;width:9px;height:1px;background:#606060"></div>
<div class="a" style="left:25px;top:8px;font-size:15.6px;line-height:20px;color:#505050;letter-spacing:0.15px;-webkit-text-stroke:0.25px #505050">GBP/AUD,</div>
<div class="a" style="left:108px;top:8px;font-size:15.6px;line-height:20px;color:#505050;letter-spacing:0.3px;-webkit-text-stroke:0.25px #505050">1,</div>
<div class="a" style="left:128px;top:16px;width:0;height:0;border-left:3.5px solid transparent;border-right:3.5px solid transparent;border-top:4px solid #c8c8c8"></div>
<svg class="ic" style="left:145px;top:11px" width="14" height="14" shape-rendering="geometricPrecision"><rect width="14" height="14" fill="#d4d4d4"/><path d="M1.8 7.2 Q7 -1.2 12.2 7.2 Q7 15.6 1.8 7.2 Z" fill="#fff"/><circle cx="7" cy="7" r="2.5" fill="#d4d4d4"/><circle cx="7" cy="7" r="1" fill="#fff"/></svg>
<svg class="ic" style="left:162px;top:11px" width="14" height="14" shape-rendering="geometricPrecision"><rect width="14" height="14" fill="#d4d4d4"/><rect x="5.7" y="1.7" width="2.6" height="10.6" fill="#fff" transform="rotate(0 7 7)"/><rect x="5.7" y="1.7" width="2.6" height="10.6" fill="#fff" transform="rotate(45 7 7)"/><rect x="5.7" y="1.7" width="2.6" height="10.6" fill="#fff" transform="rotate(90 7 7)"/><rect x="5.7" y="1.7" width="2.6" height="10.6" fill="#fff" transform="rotate(135 7 7)"/><circle cx="7" cy="7" r="4" fill="#fff"/><circle cx="7" cy="7" r="2.1" fill="#d4d4d4"/></svg>
<div class="a" style="left:183px;top:9px;font-size:14px;line-height:18px;color:#555">O</div>
<div class="a" style="left:197px;top:9px;font-size:14px;line-height:18px;color:#d0846e">1.8081</div>
<div class="a" style="left:249px;top:9px;font-size:14px;line-height:18px;color:#555">H</div>
<div class="a" style="left:261px;top:9px;font-size:14px;line-height:18px;color:#d0846e">1.8081</div>
<div class="a" style="left:315px;top:9px;font-size:14px;line-height:18px;color:#555">L</div>
<div class="a" style="left:325px;top:9px;font-size:14px;line-height:18px;color:#d0846e">1.8078</div>
<div class="a" style="left:378px;top:9px;font-size:14px;line-height:18px;color:#555">C</div>
<div class="a" style="left:390px;top:9px;font-size:14px;line-height:18px;color:#d0846e">1.8079</div>
<div class="a" style="left:6px;top:32px;font-size:12px;line-height:15px;color:#555">MA (50, close, 0)</div>
<div class="a" style="left:101px;top:37px;width:0;height:0;border-left:3.5px solid transparent;border-right:3.5px solid transparent;border-top:4px solid #c8c8c8"></div>
<svg class="ic" style="left:118px;top:32px" width="14" height="14" shape-rendering="geometricPrecision"><rect width="14" height="14" fill="#d4d4d4"/><path d="M1.8 7.2 Q7 -1.2 12.2 7.2 Q7 15.6 1.8 7.2 Z" fill="#fff"/><circle cx="7" cy="7" r="2.5" fill="#d4d4d4"/><circle cx="7" cy="7" r="1" fill="#fff"/></svg>
<svg class="ic" style="left:135px;top:32px" width="14" height="14" shape-rendering="geometricPrecision"><rect width="14" height="14" fill="#d4d4d4"/><rect x="5.7" y="1.7" width="2.6" height="10.6" fill="#fff" transform="rotate(0 7 7)"/><rect x="5.7" y="1.7" width="2.6" height="10.6" fill="#fff" transform="rotate(45 7 7)"/><rect x="5.7" y="1.7" width="2.6" height="10.6" fill="#fff" transform="rotate(90 7 7)"/><rect x="5.7" y="1.7" width="2.6" height="10.6" fill="#fff" transform="rotate(135 7 7)"/><circle cx="7" cy="7" r="4" fill="#fff"/><circle cx="7" cy="7" r="2.1" fill="#d4d4d4"/></svg>
<svg class="ic" style="left:152px;top:32px" width="14" height="14" shape-rendering="geometricPrecision"><rect width="14" height="14" fill="#d4d4d4"/><path d="M3 2.8 L11 11.2 M11 2.8 L3 11.2" stroke="#fff" stroke-width="1.9"/></svg>
<div class="a" style="left:175px;top:30px;font-size:11.6px;line-height:15px;color:#3838b0;-webkit-text-stroke:0.2px #3838b0">1.8083</div>
<div class="a" style="left:973px;top:285px;width:45px;height:4px;background:#0000c8"></div>
<div class="a" style="left:973px;top:289px;width:45px;height:16px;background:#555;color:#fff;font-size:11px;font-weight:bold;line-height:16px;text-indent:7px">1.8078</div>
<div class="a" style="left:973px;top:296px;width:3px;height:1px;background:#e8e8e8"></div>
<div class="a" style="left:973px;top:418px;width:45px;height:16px;background:#b7dca7;color:#222;font-size:11px;line-height:16px;text-indent:8px">1.8066</div>
<div class="a" style="left:805px;top:495px;width:110px;height:19px;background:#555;color:#fff;font-size:11px;font-weight:bold;line-height:23px;text-align:center">2018-10-29 06:08:00</div>
<div class="a" style="left:860px;top:495px;width:1px;height:4px;background:#fff"></div>
<div class="a" style="left:13px;top:458px;font-size:21px;line-height:26px;font-weight:bold;color:#111;letter-spacing:-0.1px;-webkit-text-stroke:0.4px #111">Investing</div><div class="a" style="left:74px;top:461px;width:4px;height:4px;border-radius:50%;background:#f0a030"></div>
<div class="a" style="left:104px;top:465px;font-size:14px;line-height:18px;color:#555">.com</div>
<div class="a" style="left:938px;top:453px;width:26px;height:26px;border:1px solid #cfcfcf;border-radius:50%;background:rgba(238,238,238,0.35)"></div>
<svg class="a" style="left:940px;top:455px" width="24" height="24"><path d="M7.5 8 L11.5 12 L7.5 16 M13 8 L17 12 L13 16" fill="none" stroke="rgba(70,70,70,0.75)" stroke-width="1.6"/></svg>
<div class="a" style="left:973px;top:425px;width:3px;height:1px;background:#333"></div>
</body></html>
